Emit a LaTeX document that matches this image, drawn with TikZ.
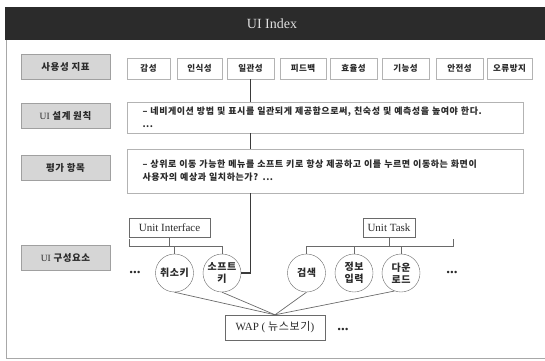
\documentclass[tikz,border=0pt]{standalone}
\usepackage{fontspec}
\setmainfont{Liberation Serif}
\newfontfamily\kr[LetterSpace=6]{Noto Sans CJK KR}
\definecolor{hdr}{HTML}{2B2B2B}
\definecolor{framec}{HTML}{A8A8A8}
\definecolor{gfill}{HTML}{D6D6D6}
\definecolor{gdraw}{HTML}{A0A0A0}
\definecolor{bdraw}{HTML}{B3B3B3}
\definecolor{connc}{HTML}{6A6A6A}
\definecolor{mainc}{HTML}{3A3A3A}
\definecolor{txt}{HTML}{2A2A2A}
\begin{document}
\begin{tikzpicture}[x=1pt,y=-1pt,
  graybox/.style={draw=gdraw, fill=gfill, minimum width=89pt, minimum height=25pt, inner sep=0pt, text=txt, font=\kr\bfseries\fontsize{9.5}{11}\selectfont},
  topbox/.style={draw=bdraw, fill=white, minimum height=21pt, inner sep=0pt, text=txt, font=\kr\bfseries\fontsize{8.5}{10}\selectfont},
  textbox/.style={draw=bdraw, fill=white, minimum width=396pt, inner xsep=15pt, text width=366pt, align=left, text=txt, font=\kr\bfseries\fontsize{9}{13}\selectfont},
  unitbox/.style={draw=connc, fill=white, minimum height=19pt, inner sep=0pt, text=txt, font=\fontsize{11}{13}\selectfont},
  circ/.style={circle, draw=connc, fill=white, minimum size=38pt, inner sep=0pt, align=center, text=txt, font=\kr\bfseries\fontsize{10}{12}\selectfont},
  dots/.style={inner sep=0pt, text=txt, font=\bfseries\fontsize{15}{15}\selectfont},
  conn/.style={draw=connc, line width=0.7pt},
  mainline/.style={draw=mainc, line width=1.3pt}]
\useasboundingbox (0,0) rectangle (545,360);
% frame and header
\draw[framec, line width=0.8pt] (545,358) -- (6,358) -- (6,40);
\fill[hdr] (5,7) rectangle (545,40);
\node[text=white!88!black, font=\fontsize{14}{16}\selectfont] (title) at (272,24) {UI Index};
% left labels
\node[graybox] (g1) at (65.5,67) {사용성 지표};
\node[graybox] (g2) at (65.5,115.5) {{\rmfamily\mdseries UI} 설계 원칙};
\node[graybox] (g3) at (65.5,167.5) {평가 항목};
\node[graybox] (g4) at (65.5,257.5) {{\rmfamily\mdseries UI} 구성요소};
% top row
\node[topbox, minimum width=43pt] (t1) at (148.5,68.5) {감성};
\node[topbox, minimum width=45pt] (t2) at (199.5,68.5) {인식성};
\node[topbox, minimum width=47pt] (t3) at (250.5,68.5) {일관성};
\node[topbox, minimum width=46pt] (t4) at (303,68.5) {피드백};
\node[topbox, minimum width=47pt] (t5) at (353.5,68.5) {효율성};
\node[topbox, minimum width=47pt] (t6) at (405.5,68.5) {기능성};
\node[topbox, minimum width=47pt] (t7) at (459.5,68.5) {안전성};
\node[topbox, minimum width=45pt] (t8) at (509.5,68.5) {오류방지};
% text boxes
\node[textbox, minimum height=31pt] (b1) at (325.5,117.5) {– 네비게이션 방법 및 표시를 일관되게 제공함으로써, 친숙성 및 예측성을 높여야 한다.\\...};
\node[textbox, minimum height=44pt] (b2) at (325.5,171) {– 상위로 이동 가능한 메뉴를 소프트 키로 항상 제공하고 이를 누르면 이동하는 화면이\\사용자의 예상과 일치하는가? ...};
% units
\node[unitbox, minimum width=81pt] (ui) at (169.5,228) {Unit Interface};
\node[unitbox, minimum width=52pt] (ut) at (389,227.5) {Unit Task};
% circles
\node[circ] (c1) at (174.5,273) {취소키};
\node[circ] (c2) at (222,273) {소프트\\키};
\node[circ] (c3) at (306.5,273) {검색};
\node[circ] (c4) at (354,273) {정보\\입력};
\node[circ] (c5) at (401,273) {다운\\로드};
% WAP
\node[unitbox, minimum width=100pt, minimum height=25pt] (wap) at (275,327.5) {WAP ( {\kr 뉴스보기})};
% dots
\node[dots] (d1) at (135,272) {...};
\node[dots] (d2) at (452,272) {...};
\node[dots] (d3) at (343,329) {...};
% brackets
\coordinate (lbl) at (129,246);
\coordinate (rbr) at (453,246);
\draw[conn] (ui.south) -- (ui.south |- lbl);
\draw[conn] ([yshift=7pt]lbl) -- (lbl) -- (lbl -| c2.north) -- (c2.north);
\draw[conn] (c1.north |- lbl) -- (c1.north);
\draw[conn] (c3.north) -- (c3.north |- rbr) -- (rbr) -- ([yshift=7pt]rbr);
\draw[conn] (c4.north |- rbr) -- (c4.north);
\draw[conn] (c5.north |- rbr) -- (c5.north);
\draw[conn] (ut.south) -- (ut.south |- rbr);
% main line
\draw[mainline] (t3.south) -- (b1.north -| t3.south);
\draw[mainline] (b1.south -| t3.south) -- (b2.north -| t3.south);
\draw[mainline] (b2.south -| t3.south) -- (t3.south |- c2.east) -- (c2.east);
% to WAP
\draw[conn] (c1.south) -- (wap.north);
\draw[conn] (c2.south) -- (wap.north);
\draw[conn] (c3.south) -- (wap.north);
\draw[conn] (c5.250) -- (wap.north);
\end{tikzpicture}
\end{document}
